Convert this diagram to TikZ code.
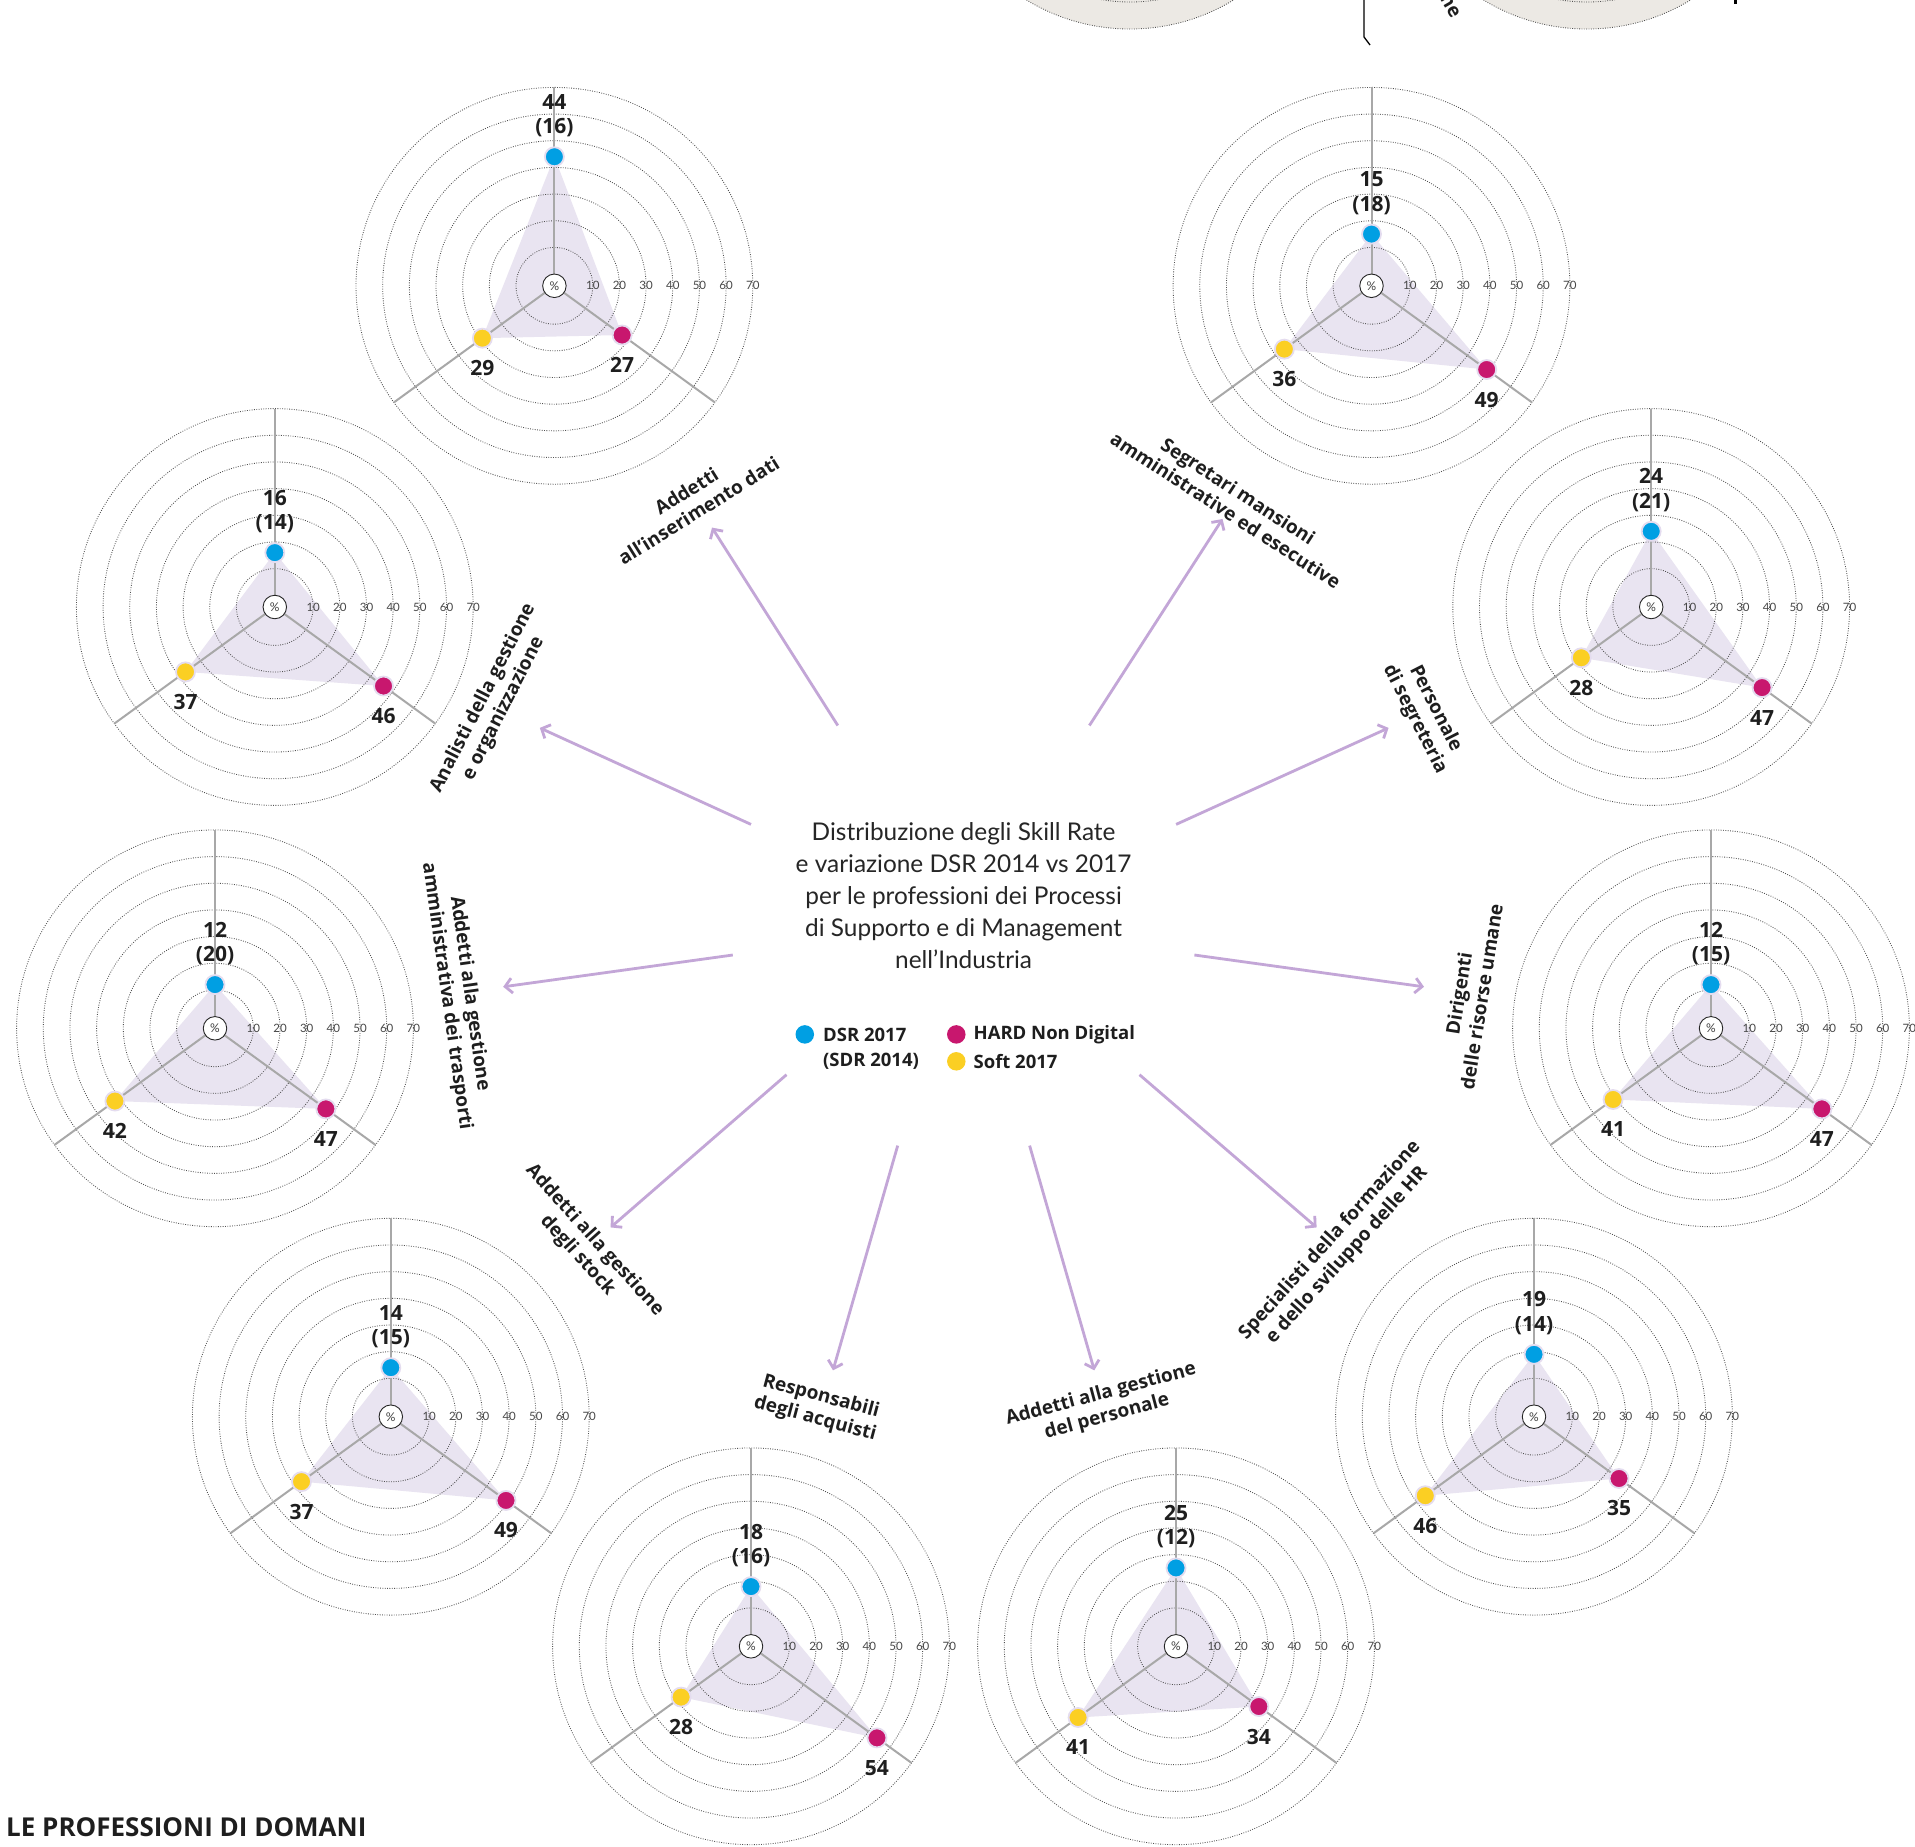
\documentclass[tikz,border=0pt]{standalone}
\usepackage{fontspec}
\setmainfont{Open Sans}
\newfontfamily\latofont{Lato}
\usetikzlibrary{arrows.meta}
\definecolor{dsrblue}{HTML}{009FE3}
\definecolor{hardpink}{HTML}{C8176E}
\definecolor{softyellow}{HTML}{FBCF23}
\definecolor{polyfill}{HTML}{E9E4F1}
\definecolor{halo}{HTML}{E4DCEF}
\definecolor{axisgray}{HTML}{A8A8A8}
\definecolor{ringgray}{HTML}{505050}
\definecolor{arrowlav}{HTML}{C3A6D7}
\definecolor{textdark}{HTML}{1E1E1E}
\definecolor{beigefill}{HTML}{ECE9E4}
\tikzset{
 ring/.style={draw=ringgray, line width=0.85pt, dash pattern=on 0.85pt off 1.5pt},
 axisline/.style={draw=axisgray, line width=2pt},
 pct/.style={circle, draw=black!85, line width=0.9pt, fill=white, minimum size=23.5pt, inner sep=0pt, font=\latofont\fontsize{12}{12}\selectfont, text=black!75},
 ringlbl/.style={font=\latofont\fontsize{11.5}{12}\selectfont, text=black!72, inner sep=0pt},
 val/.style={font=\bfseries\fontsize{21}{21}\selectfont, text=textdark, inner sep=0pt},
 dotbase/.style={circle, draw=halo, line width=1.8pt, minimum size=19pt, inner sep=0pt},
 dotD/.style={dotbase, fill=dsrblue},
 dotH/.style={dotbase, fill=hardpink},
 dotS/.style={dotbase, fill=softyellow},
 legdot/.style={circle, minimum size=18.5pt, inner sep=0pt},
 legtxt/.style={font=\bfseries\fontsize{18.5}{20}\selectfont, text=textdark, anchor=west, inner sep=0pt},
 jobl/.style={font=\bfseries\fontsize{19}{23}\selectfont, text=textdark, align=center, inner sep=0pt},
 centertxt/.style={font=\latofont\fontsize{24.4}{32}\selectfont, text=black!85, align=center, inner sep=0pt},
 conn/.style={draw=arrowlav, line width=2.8pt, -{Straight Barb[length=7pt,width=15pt]}},
 topring/.style={draw=ringgray, line width=0.85pt, dash pattern=on 0.85pt off 1.5pt},
}
\newcommand{\radarchart}[7]{%
 \begin{scope}[shift={(#2,#3)}]
 \pgfmathsetmacro\rD{11.7+2.667*#4}
 \pgfmathsetmacro\rH{11.7+2.667*#6}
 \pgfmathsetmacro\rS{11.7+2.667*#7}
 \fill[polyfill] (0,-\rD) -- ({0.809*\rH},{0.588*\rH}) -- ({-0.809*\rS},{0.588*\rS}) -- cycle;
 \foreach \v in {10,20,...,70}{\draw[ring] (0,0) circle[radius=11.7+2.667*\v];}
 \draw[axisline] (0,0) -- (0,-198.4);
 \draw[axisline] (0,0) -- (160.5,116.6);
 \draw[axisline] (0,0) -- (-160.5,116.6);
 \node[pct] (#1c) at (0,0) {\%};
 \foreach \v in {10,20,...,70}{\node[ringlbl] at ({11.7+2.667*\v},0) {\v};}
 \node[dotD] (#1d) at (0,-\rD) {};
 \node[dotH] (#1h) at ({0.809*\rH},{0.588*\rH}) {};
 \node[dotS] (#1s) at ({-0.809*\rS},{0.588*\rS}) {};
 \node[val] (#1dv) at (0,{-\rD-55}) {#4};
 \node[val] (#1dp) at (0,{-\rD-29}) {(#5)};
 \node[val] (#1hv) at ({0.809*\rH},{0.588*\rH+30}) {#6};
 \node[val] (#1sv) at ({-0.809*\rS},{0.588*\rS+30}) {#7};
 \end{scope}}
\begin{document}
\begin{tikzpicture}[x=1pt,y=-1pt]
\path[use as bounding box] (0,0) rectangle (1915,1847);
\clip (0,0) rectangle (1915,1847);
\fill[white] (0,0) rectangle (1915,1847);
% fragments of the neighbouring graphic at the top
\fill[beigefill] (1130,-170) circle[radius=199];
\draw[topring] (1130,-170) circle[radius=199];
\draw[topring] (1130,-170) circle[radius=172];
\fill[beigefill] (1587,-170) circle[radius=199];
\draw[topring] (1587,-170) circle[radius=199];
\draw[topring] (1587,-170) circle[radius=172];
\coordinate (fragA) at (1364,0);
\coordinate (fragB) at (1364,37);
\coordinate (fragC) at (1370,45);
\draw[line width=1.3pt, black] (fragA) -- (fragB) -- (fragC);
\node[jobl, rotate=-60] (fragtxt) at (1450,6) {ne};
\node[fill=black, inner sep=0pt, minimum width=3pt, minimum height=4pt] (fragdot) at (1735,2) {};
% radar charts
\radarchart{a}{554.4}{285.8}{44}{16}{27}{29}
\radarchart{b}{1371.5}{285.8}{15}{18}{49}{36}
\radarchart{c}{274.8}{607}{16}{14}{46}{37}
\radarchart{d}{1651.2}{607}{24}{21}{47}{28}
\radarchart{e}{215}{1028.3}{12}{20}{47}{42}
\radarchart{f}{1711}{1028.3}{12}{15}{47}{41}
\radarchart{g}{390.8}{1416.7}{14}{15}{49}{37}
\radarchart{h}{1534}{1416.7}{19}{14}{35}{46}
\radarchart{i}{751}{1646.3}{18}{16}{54}{28}
\radarchart{j}{1176}{1646.3}{25}{12}{34}{41}
% job labels
\node[jobl, rotate=32] (la) at (692.5,500.7) {Addetti\\all’inserimento dati};
\node[jobl, rotate=-33] (lb) at (1232,500.7) {Segretari mansioni\\amministrative ed esecutive};
\node[jobl, rotate=63] (lc) at (493.4,703.5) {Analisti della gestione\\e organizzazione};
\node[jobl, rotate=-63] (ld) at (1425,714) {Personale\\di segreteria};
\node[jobl, rotate=-82] (le) at (458,995) {Addetti alla gestione\\amministrativa dei trasporti};
\node[jobl, rotate=81] (lf) at (1470,995) {Dirigenti\\delle risorse umane};
\node[jobl, rotate=-48] (lg) at (586,1248) {Addetti alla gestione\\degli stock};
\node[jobl, rotate=48] (lh) at (1338.5,1248) {Specialisti della formazione\\e dello sviluppo delle HR};
\node[jobl, rotate=-15] (li) at (818,1408) {Responsabili\\degli acquisti};
\node[jobl, rotate=15] (lj) at (1104,1405.7) {Addetti alla gestione\\del personale};
% centre text
\node[centertxt] (title) at (963.6,896) {Distribuzione degli Skill Rate\\e variazione DSR 2014 vs 2017\\per le professioni dei Processi\\di Supporto e di Management\\nell’Industria};
% legend
\node[legdot, fill=dsrblue] (ldsr) at (804.8,1034.4) {};
\node[legtxt] (ldsrt) at (823,1034.4) {DSR 2017};
\node[legtxt] (lsdrt) at (823,1061.3) {(SDR 2014)};
\node[legdot, fill=hardpink] (lhard) at (956.3,1034.4) {};
\node[legtxt] (lhardt) at (973.4,1034.4) {HARD Non Digital};
\node[legdot, fill=softyellow] (lsoft) at (956.3,1061.3) {};
\node[legtxt] (lsoftt) at (973.4,1061.3) {Soft 2017};
% arrows
\coordinate (s1) at (837.8,725.5); \coordinate (e1) at (712,527.6);
\coordinate (s2) at (1089.4,725.5); \coordinate (e2) at (1222.5,519);
\coordinate (s3) at (751,824.4); \coordinate (e3) at (539.8,727.9);
\coordinate (s4) at (1176.1,824.4); \coordinate (e4) at (1388.6,727.9);
\coordinate (s5) at (732.8,955); \coordinate (e5) at (503.2,986.8);
\coordinate (s6) at (1194.4,955); \coordinate (e6) at (1424,986.8);
\coordinate (s7) at (786.5,1074.7); \coordinate (e7) at (610.6,1227.4);
\coordinate (s8) at (1139.5,1074.7); \coordinate (e8) at (1316.6,1227.4);
\coordinate (s9) at (897.7,1145.6); \coordinate (e9) at (833,1370.3);
\coordinate (s10) at (1029.6,1145.6); \coordinate (e10) at (1094.3,1370.3);
\foreach \k in {1,...,10}{\draw[conn] (s\k) -- (e\k);}
% page title
\node[font=\bfseries\fontsize{26}{26}\selectfont, text=textdark, anchor=west, inner sep=0pt] (pagetitle) at (6,1827) {LE PROFESSIONI DI DOMANI};
\end{tikzpicture}
\end{document}
